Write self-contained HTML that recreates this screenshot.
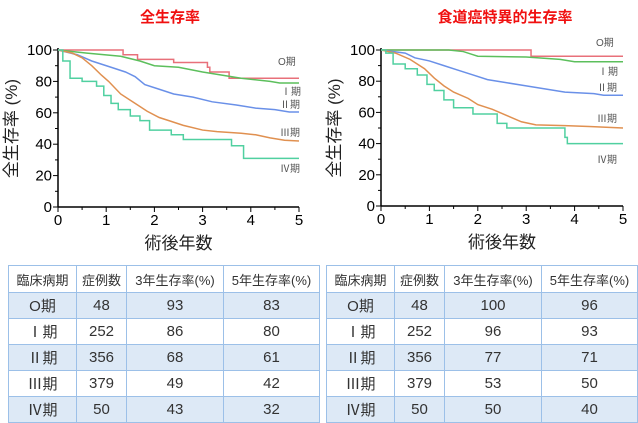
<!DOCTYPE html>
<html><head><meta charset="utf-8"><style>
body{margin:0;width:638px;height:423px;background:#fff;overflow:hidden;font-family:"Liberation Sans","Noto Sans CJK JP",sans-serif}
svg{position:absolute;left:0;top:0}
table{position:absolute;border-collapse:collapse;font-family:"Liberation Sans","Noto Sans CJK JP",sans-serif;color:#333;font-size:15px;table-layout:fixed}
td{border:1.5px solid #9cc0e8;text-align:center;height:25px;padding:0}
tr.h td{font-size:13px;height:26px}
tr.s td{background:#dde9f6}
</style></head><body>
<svg id="s" width="638" height="423" font-family="Liberation Sans, Noto Sans CJK JP, sans-serif"></svg>
<table style="left:8px;top:265px;width:311px">
<colgroup><col style="width:68px"><col style="width:50px"><col style="width:97px"><col style="width:96px"></colgroup>
<tr class="h"><td>臨床病期</td><td>症例数</td><td>3年生存率(%)</td><td>5年生存率(%)</td></tr>
<tr class="s"><td>O期</td><td>48</td><td>93</td><td>83</td></tr>
<tr><td>Ⅰ期</td><td>252</td><td>86</td><td>80</td></tr>
<tr class="s"><td>Ⅱ期</td><td>356</td><td>68</td><td>61</td></tr>
<tr><td>Ⅲ期</td><td>379</td><td>49</td><td>42</td></tr>
<tr class="s"><td>Ⅳ期</td><td>50</td><td>43</td><td>32</td></tr>
</table>
<table style="left:326px;top:265px;width:311px">
<colgroup><col style="width:68px"><col style="width:50px"><col style="width:97px"><col style="width:96px"></colgroup>
<tr class="h"><td>臨床病期</td><td>症例数</td><td>3年生存率(%)</td><td>5年生存率(%)</td></tr>
<tr class="s"><td>O期</td><td>48</td><td>100</td><td>96</td></tr>
<tr><td>Ⅰ期</td><td>252</td><td>96</td><td>93</td></tr>
<tr class="s"><td>Ⅱ期</td><td>356</td><td>77</td><td>71</td></tr>
<tr><td>Ⅲ期</td><td>379</td><td>53</td><td>50</td></tr>
<tr class="s"><td>Ⅳ期</td><td>50</td><td>50</td><td>40</td></tr>
</table>
<script>
var s=document.getElementById('s'),h='';
var C={r:'#e8707a',g:'#5cbf5c',b:'#6a90e8',o:'#e09050',t:'#50d0a0'};
function chart(x0,x5,y0,y100,title,tx,curves,labels){
 var X=function(v){return x0+(x5-x0)*v/5},Y=function(v){return y0-(y0-y100)*v/100};
 h+='<text x="'+tx+'" y="22" fill="#f01010" font-size="15" font-weight="bold" text-anchor="middle">'+title+'</text>';
 h+='<line x1="'+x0+'" y1="'+(y100-2)+'" x2="'+x0+'" y2="'+y0+'" stroke="#000" stroke-width="1.5"/>';
 h+='<line x1="'+x0+'" y1="'+y0+'" x2="'+x5+'" y2="'+y0+'" stroke="#000" stroke-width="1.5"/>';
 for(var i=0;i<=10;i++){var y=Y(i*10);h+='<line x1="'+(x0-(i%2?3:5))+'" y1="'+y+'" x2="'+x0+'" y2="'+y+'" stroke="#000"/>';
  if(i%2==0)h+='<text x="'+(x0-6)+'" y="'+(y+5)+'" font-size="15" text-anchor="end">'+i*10+'</text>';}
 for(var i=0;i<=5;i++){var x=X(i);h+='<line x1="'+x+'" y1="'+y0+'" x2="'+x+'" y2="'+(y0+5)+'" stroke="#000"/>';
  h+='<text x="'+x+'" y="'+(y0+18)+'" font-size="15" text-anchor="middle">'+i+'</text>';
  if(i<5)h+='<line x1="'+X(i+.5)+'" y1="'+y0+'" x2="'+X(i+.5)+'" y2="'+(y0+3)+'" stroke="#000"/>';}
 h+='<text x="'+(x0+(x5-x0)/2)+'" y="'+(y0+42)+'" font-size="17" text-anchor="middle" fill="#222">術後年数</text>';
 h+='<text transform="translate('+(x0-41)+','+(Y(50))+') rotate(-90)" font-size="17" text-anchor="middle" fill="#222">全生存率 (%)</text>';
 curves.forEach(function(c){var p=c[2],d='M'+X(0)+','+Y(100);var prev=100;
  for(var k=0;k<p.length;k+=2){if(c[1]){d+=' L'+X(p[k])+','+Y(prev)+' L'+X(p[k])+','+Y(p[k+1]);}else d+=' L'+X(p[k])+','+Y(p[k+1]);prev=p[k+1];}
  d+=' L'+X(5)+','+Y(prev);
  h+='<path d="'+d+'" fill="none" stroke="'+C[c[0]]+'" stroke-width="1.5"/>';});
 labels.forEach(function(l){h+='<text x="'+l[0]+'" y="'+l[1]+'" font-size="10" fill="#555">'+l[2]+'</text>';});
}
chart(58,299,207,50,'全生存率',170,[
 ['r',1,[1.35,97,1.65,94,2.4,92,3.1,89,3.15,86,3.55,82]],
 ['g',0,[0.6,98,1.3,96,1.7,93,2,90,2.5,89,3,86,3.4,84,3.8,82,4.4,80,4.6,79]],
 ['b',0,[0.4,97,0.7,93,1.1,89,1.4,86,1.6,83,1.8,78,2.1,75,2.4,72,2.8,70,3.2,67,3.7,65,4.1,63,4.5,62,4.8,60.5]],
 ['o',0,[0.3,98,0.5,95,0.7,90,0.9,84,1.05,80,1.3,72,1.6,66,1.85,61,2.1,57,2.3,55,2.6,52,3,49,3.3,48,3.8,47,4.1,46,4.4,44,4.7,42.5,5,42]],
 ['t',1,[0.1,93,0.25,82,0.5,80,0.8,77,0.95,71,1.1,66,1.25,62,1.5,58,1.7,55,1.9,49,2.35,46,2.6,43,3.6,39,3.85,31]]
],[[278,65,'O期'],[281,95,'Ⅰ期'],[280,108,'Ⅱ期'],[280,136,'Ⅲ期'],[280,172,'Ⅳ期']]);
chart(381,623,206,50,'食道癌特異的生存率',505,[
 ['r',1,[3.1,96]],
 ['g',0,[1.4,100,1.7,99,1.9,97,2,96,3,95.5,3.7,94,4,92.5]],
 ['b',0,[0.5,98,0.7,95,1,93,1.3,90,1.6,87,1.9,84,2.2,81,2.6,79,3,77,3.4,75,3.8,73,4.4,72,4.6,71]],
 ['o',0,[0.3,98,0.6,94,0.9,88,1.1,82,1.3,77,1.5,73,1.8,69,2,65,2.3,62,2.6,58,2.9,54,3.2,52,3.8,51.5,4.3,51,5,50]],
 ['t',1,[0.1,98,0.25,91,0.5,88,0.75,84,0.95,78,1.1,74,1.3,68,1.5,63,1.9,59,2.4,53,2.6,50,3.8,44,3.85,40]]
],[[596,46,'O期'],[598,75,'Ⅰ期'],[597,91,'Ⅱ期'],[597,122,'Ⅲ期'],[597,163,'Ⅳ期']]);
s.innerHTML=h;
</script>
</body></html>
